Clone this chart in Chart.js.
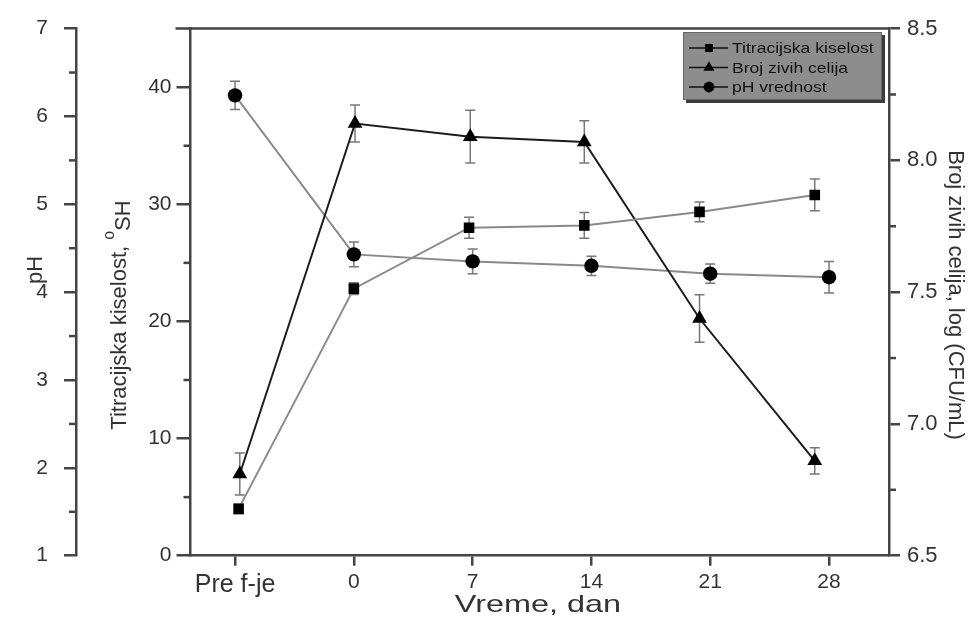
<!DOCTYPE html>
<html>
<head>
<meta charset="utf-8">
<script src="https://cdn.jsdelivr.net/npm/chart.js"></script>
<style>
html, body { margin: 0; padding: 0; background: #fff; }
#wrap { width: 976px; height: 635px; }
</style>
</head>
<body>
<div id="wrap"><canvas id="chart" width="976" height="635"></canvas></div>
<script>
// kategorije na x osi
const xLabels = ['Pre f-je', '0', '7', '14', '21', '28'];

// Titracijska kiselost (°SH)
const kiselostX = [0.03, 1.0, 1.97, 2.94, 3.91, 4.88];
const kiselost = [4.0, 22.8, 28.0, 28.2, 29.35, 30.8];
const kiselostErr = [0.4, 0.5, 0.9, 1.1, 0.85, 1.35];

// Broj zivih celija, log (CFU/mL)
const celijeX = [0.04, 1.01, 1.98, 2.94, 3.91, 4.88];
const celije = [6.81, 8.14, 8.09, 8.07, 7.40, 6.86];
const celijeErr = [0.08, 0.07, 0.1, 0.08, 0.09, 0.05];

// pH vrednost
const phX = [0, 1, 2, 3, 4, 5];
const ph = [6.24, 4.43, 4.35, 4.30, 4.21, 4.17];
const phErr = [0.16, 0.14, 0.14, 0.11, 0.11, 0.18];

// podele na osama
const xTicks = [0, 1, 2, 3, 4, 5];
const phTicks = [1, 2, 3, 4, 5, 6, 7];
const phMinor = [1.5, 2.5, 3.5, 4.5, 5.5, 6.5];
const kiselostTicks = [0, 10, 20, 30, 40];
const kiselostMinor = [5, 15, 25, 35];
const celijeTicks = [6.5, 7.0, 7.5, 8.0, 8.5];
const celijeMinor = [6.75, 7.25, 7.75, 8.25];

const FONT = "'Liberation Sans', Arial, sans-serif";
const AXIS = '#444';
const TXT = '#333';

const pts = (xs, ys) => xs.map((x, i) => ({ x: x, y: ys[i] }));
const fixTicks = vals => scale => { scale.ticks = vals.map(v => ({ value: v })); };

// --- error bars ---
const errorBars = {
    id: 'errorBars',
    beforeDatasetsDraw(chart) {
        const ctx = chart.ctx;
        ctx.save();
        ctx.strokeStyle = '#777';
        ctx.lineWidth = 1.5;
        chart.data.datasets.forEach((ds, i) => {
            const meta = chart.getDatasetMeta(i);
            const ys = chart.scales[ds.yAxisID];
            meta.data.forEach((p, j) => {
                const v = ds.data[j].y, e = ds.errors[j];
                const y1 = ys.getPixelForValue(v + e), y2 = ys.getPixelForValue(v - e);
                ctx.beginPath();
                ctx.moveTo(p.x, y1); ctx.lineTo(p.x, y2);
                ctx.moveTo(p.x - 5, y1); ctx.lineTo(p.x + 5, y1);
                ctx.moveTo(p.x - 5, y2); ctx.lineTo(p.x + 5, y2);
                ctx.stroke();
            });
        });
        ctx.restore();
    }
};

// tekst razvucen po horizontali (kao na originalu)
function wideText(ctx, txt, x, y, sx) {
    ctx.save();
    ctx.translate(x, y);
    ctx.scale(sx, 1);
    ctx.fillText(txt, 0, 0);
    ctx.restore();
}

// --- sitne podele, gornja linija, naslovi osa, legenda ---
const decor = {
    id: 'decor',
    afterDraw(chart) {
        const ctx = chart.ctx;
        const a = chart.chartArea;
        ctx.save();
        ctx.strokeStyle = AXIS;
        ctx.lineWidth = 2.5;
        // gornja linija okvira
        ctx.beginPath();
        ctx.moveTo(a.left - 15, a.top); ctx.lineTo(a.right, a.top);
        ctx.stroke();

        // minor ticks
        const minor = (id, vals, dir) => {
            const s = chart.scales[id];
            const x0 = dir < 0 ? s.right : s.left;
            vals.forEach(v => {
                const y = s.getPixelForValue(v);
                ctx.beginPath();
                ctx.moveTo(x0, y); ctx.lineTo(x0 + dir * 7, y);
                ctx.stroke();
            });
        };
        minor('yPh', phMinor, -1);
        minor('yKis', kiselostMinor, -1);
        minor('yCel', celijeMinor, 1);

        // naslovi osa
        ctx.fillStyle = TXT;
        ctx.textAlign = 'center';
        ctx.textBaseline = 'middle';
        ctx.font = '24px ' + FONT;
        wideText(ctx, 'Vreme, dan', 538, 605, 1.35);

        ctx.save();
        ctx.translate(36, 270);
        ctx.rotate(-Math.PI / 2);
        ctx.font = '22px ' + FONT;
        ctx.fillText('pH', 0, 0);
        ctx.restore();

        ctx.save();
        ctx.translate(120, 315);
        ctx.rotate(-Math.PI / 2);
        const t1 = 'Titracijska kiselost, ';
        ctx.font = '22px ' + FONT;
        const w1 = ctx.measureText(t1).width;
        ctx.font = '16px ' + FONT;
        const w2 = ctx.measureText('o').width;
        ctx.font = '22px ' + FONT;
        const w3 = ctx.measureText('SH').width;
        let x = -(w1 + w2 + w3) / 2;
        ctx.textAlign = 'left';
        ctx.fillText(t1, x, 0); x += w1;
        ctx.font = '16px ' + FONT;
        ctx.fillText('o', x, -10); x += w2;
        ctx.font = '22px ' + FONT;
        ctx.fillText('SH', x, 4);
        ctx.restore();

        ctx.save();
        ctx.translate(955, 295);
        ctx.rotate(Math.PI / 2);
        ctx.font = '22px ' + FONT;
        ctx.fillText('Broj zivih celija, log (CFU/mL)', 0, 0);
        ctx.restore();

        // legenda
        const lx = 683, ly = 32, lw = 199, lh = 68;
        ctx.fillStyle = '#3c3c3c';
        ctx.fillRect(lx + 3, ly + 3, lw, lh);
        ctx.fillStyle = '#8d8d8d';
        ctx.fillRect(lx, ly, lw, lh);
        ctx.lineWidth = 1;
        ctx.strokeStyle = '#666';
        ctx.strokeRect(lx + 0.5, ly + 0.5, lw - 1, lh - 1);
        ctx.font = '15px ' + FONT;
        ctx.textAlign = 'left';
        chart.data.datasets.forEach((ds, i) => {
            const y = ly + 16 + i * 19.5;
            ctx.strokeStyle = '#111';
            ctx.lineWidth = 1.5;
            ctx.beginPath();
            ctx.moveTo(lx + 6, y); ctx.lineTo(lx + 45, y);
            ctx.stroke();
            ctx.fillStyle = '#000';
            Chart.helpers.drawPoint(ctx, {
                pointStyle: ds.pointStyle, radius: ds.pointRadius * 0.75,
                rotation: 0, borderWidth: 0
            }, lx + 26, y);
            ctx.fillStyle = '#111';
            wideText(ctx, ds.label, lx + 49, y + 1, 1.17);
        });
        ctx.restore();
    }
};

new Chart(document.getElementById('chart'), {
    type: 'line',
    data: {
        datasets: [
            {
                label: 'Titracijska kiselost',
                data: pts(kiselostX, kiselost),
                errors: kiselostErr,
                yAxisID: 'yKis',
                borderColor: '#8a8a8a',
                borderWidth: 2,
                pointStyle: 'rect',
                pointRadius: 7.5,
                pointBackgroundColor: '#000',
                pointBorderColor: '#000',
                pointBorderWidth: 0
            },
            {
                label: 'Broj zivih celija',
                data: pts(celijeX, celije),
                errors: celijeErr,
                yAxisID: 'yCel',
                borderColor: '#1c1c1c',
                borderWidth: 2,
                pointStyle: 'triangle',
                pointRadius: 8.5,
                pointBackgroundColor: '#000',
                pointBorderColor: '#000',
                pointBorderWidth: 0
            },
            {
                label: 'pH vrednost',
                data: pts(phX, ph),
                errors: phErr,
                yAxisID: 'yPh',
                borderColor: '#8a8a8a',
                borderWidth: 2,
                pointStyle: 'circle',
                pointRadius: 7.2,
                pointBackgroundColor: '#000',
                pointBorderColor: '#000',
                pointBorderWidth: 0
            }
        ]
    },
    options: {
        responsive: false,
        animation: false,
        devicePixelRatio: 1,
        layout: { padding: { top: 25.7, left: 0, right: 0, bottom: 0 } },
        plugins: { legend: { display: false }, tooltip: { enabled: false } },
        scales: {
            x: {
                type: 'linear',
                min: -0.375,
                max: 5.505,
                afterBuildTicks: fixTicks(xTicks),
                afterFit: s => { s.height = 635 - 555.7; },
                grid: { drawOnChartArea: false, drawTicks: true, tickLength: 10, color: AXIS, lineWidth: 2.5 },
                border: { display: true, color: AXIS, width: 2.5 },
                ticks: {
                    padding: 4, color: TXT,
                    font: c => ({ family: FONT, size: c.index === 0 ? 25 : 21 }),
                    maxRotation: 0, autoSkip: false,
                    callback: v => xLabels[v]
                }
            },
            yPh: {
                type: 'linear',
                position: 'left',
                weight: 2,
                min: 1, max: 7,
                afterBuildTicks: fixTicks(phTicks),
                afterFit: s => { s.width = 76; },
                grid: { drawOnChartArea: false, drawTicks: true, tickLength: 12, color: AXIS, lineWidth: 2.5 },
                border: { display: true, color: AXIS, width: 2.5 },
                ticks: { padding: 16, color: TXT, font: { family: FONT, size: 21 } }
            },
            yKis: {
                type: 'linear',
                position: 'left',
                weight: 1,
                min: 0, max: 45,
                afterBuildTicks: fixTicks(kiselostTicks),
                afterFit: s => { s.width = 114.5; },
                grid: { drawOnChartArea: false, drawTicks: true, tickLength: 14, color: AXIS, lineWidth: 2.5 },
                border: { display: true, color: AXIS, width: 2.5 },
                ticks: { padding: 5, color: TXT, font: { family: FONT, size: 21 } }
            },
            yCel: {
                type: 'linear',
                position: 'right',
                min: 6.5, max: 8.5,
                afterBuildTicks: fixTicks(celijeTicks),
                afterFit: s => { s.width = 87; },
                grid: { drawOnChartArea: false, drawTicks: true, tickLength: 11, color: AXIS, lineWidth: 2.5 },
                border: { display: true, color: AXIS, width: 2.5 },
                ticks: { padding: 7, color: TXT, font: { family: FONT, size: 22 }, callback: v => v.toFixed(1) }
            }
        }
    },
    plugins: [errorBars, decor]
});
</script>
</body>
</html>
